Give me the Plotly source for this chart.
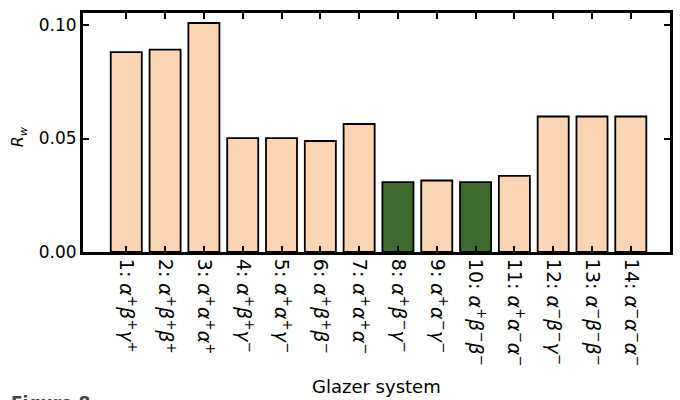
import plotly.graph_objects as go

def lbl(n, a, b, c):
    return f"{n}: " + "".join(f"<i>{g}</i><sup>{s}</sup>" for g, s in (a, b, c))

systems = [lbl(1, ("α", "+"), ("β", "+"), ("γ", "+")),
           lbl(2, ("α", "+"), ("β", "+"), ("β", "+")),
           lbl(3, ("α", "+"), ("α", "+"), ("α", "+")),
           lbl(4, ("α", "+"), ("β", "+"), ("γ", "−")),
           lbl(5, ("α", "+"), ("α", "+"), ("γ", "−")),
           lbl(6, ("α", "+"), ("β", "+"), ("β", "−")),
           lbl(7, ("α", "+"), ("α", "+"), ("α", "−")),
           lbl(8, ("α", "+"), ("β", "−"), ("γ", "−")),
           lbl(9, ("α", "+"), ("α", "−"), ("γ", "−")),
           lbl(10, ("α", "+"), ("β", "−"), ("β", "−")),
           lbl(11, ("α", "+"), ("α", "−"), ("α", "−")),
           lbl(12, ("α", "−"), ("β", "−"), ("γ", "−")),
           lbl(13, ("α", "−"), ("β", "−"), ("β", "−")),
           lbl(14, ("α", "−"), ("α", "−"), ("α", "−"))]
positions = list(range(1, 15))
rw = [0.0881, 0.0892, 0.1009, 0.0502, 0.0502, 0.0489, 0.0564,
      0.0308, 0.0315, 0.0308, 0.0335, 0.0597, 0.0597, 0.0597]
highlight = [8, 10]

peach = "#FBD4B4"
green = "#3D6B2C"
colors = [green if p in highlight else peach for p in positions]

fig = go.Figure()
fig.add_trace(go.Bar(
    x=positions, y=rw, width=0.8,
    marker=dict(color=colors, line=dict(color="black", width=1.8)),
    showlegend=False,
))

font = "DejaVu Sans"
fig.update_layout(
    width=680, height=400,
    margin=dict(l=83, r=7, t=13, b=148),
    paper_bgcolor="white", plot_bgcolor="white",
    font=dict(family=font, color="black", size=17),
    bargap=0.2,
)
fig.update_xaxes(
    range=[-0.115, 15.01],
    tickvals=positions, ticktext=systems, tickangle=90,
    tickfont=dict(size=19, family=font),
    ticks="inside", ticklen=6, tickwidth=2, tickcolor="black",
    showline=True, linewidth=3, linecolor="black", mirror="allticks",
    showgrid=False, zeroline=False,
)
fig.update_yaxes(
    range=[0, 0.1053],
    tickvals=[0, 0.05, 0.10], tickformat=".2f",
    tickfont=dict(size=17, family=font),
    ticks="inside", ticklen=6, tickwidth=2, tickcolor="black",
    showline=True, linewidth=3, linecolor="black", mirror="allticks",
    showgrid=False, zeroline=False,
)
fig.add_annotation(
    text="Glazer system", xref="paper", yref="paper",
    x=(378 - 83) / 590, y=(252 - 386) / 239,
    xanchor="center", yanchor="middle", showarrow=False,
    font=dict(size=18, family=font, color="black"),
)
fig.add_annotation(
    text="<i>R<sub>w</sub></i>", xref="paper", yref="paper",
    x=(18 - 83) / 590, y=(252 - 137) / 239, textangle=-90,
    xanchor="center", yanchor="middle", showarrow=False,
    font=dict(size=16, family=font, color="black"),
)
fig.add_annotation(
    text="<b>Figure 8</b>", xref="paper", yref="paper",
    x=(9 - 83) / 590, y=(252 - 391) / 239,
    xanchor="left", yanchor="top", showarrow=False,
    font=dict(size=17, family=font, color="#444444"),
)

fig.write_html("out.html")
